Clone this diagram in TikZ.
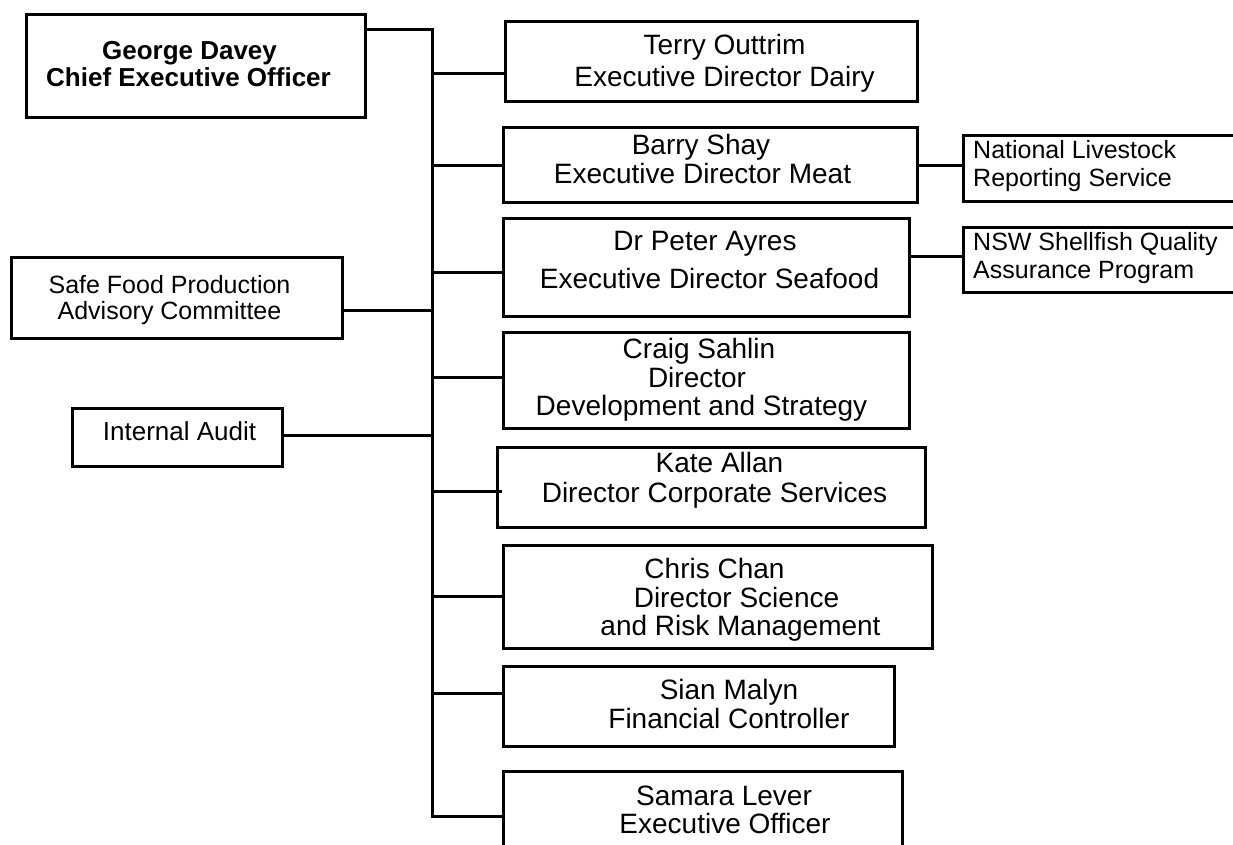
\documentclass[tikz,border=0pt]{standalone}
\usepackage{fontspec}
\setmainfont{Liberation Sans}
\begin{document}
\begin{tikzpicture}[x=1pt,y=-1pt,
  box/.style={draw, line width=3pt, rectangle, inner sep=0pt, outer sep=0pt},
  conn/.style={line width=3pt, line join=miter},
  big/.style={anchor=base, inner sep=0pt, font=\fontsize{28}{32}\selectfont},
  small/.style={anchor=base, inner sep=0pt, font=\fontsize{25}{28}\selectfont},
  smallw/.style={anchor=base west, inner sep=0pt, font=\fontsize{25}{28}\selectfont},
  boldt/.style={anchor=base, inner sep=0pt, font=\fontsize{26}{28}\selectfont\bfseries}]
\useasboundingbox (0,0) rectangle (1233,845);
\fill[white] (0,0) rectangle (1233,845);
\clip (0,0) rectangle (1233,845);

% boxes
\node[box, minimum width=339pt, minimum height=103pt] (ceo) at (195.5,66.5) {};
\node[box, minimum width=412pt, minimum height=80pt] (terry) at (711,62) {};
\node[box, minimum width=414pt, minimum height=74pt] (barry) at (710,165) {};
\node[box, minimum width=406pt, minimum height=98pt] (peter) at (706,267) {};
\node[box, minimum width=406pt, minimum height=96pt] (craig) at (706,380) {};
\node[box, minimum width=428pt, minimum height=80pt] (kate) at (711,487) {};
\node[box, minimum width=429pt, minimum height=103pt] (chris) at (717.5,596.5) {};
\node[box, minimum width=391pt, minimum height=80pt] (sian) at (698.5,706) {};
\node[box, minimum width=399pt, minimum height=130pt] (samara) at (702.5,836) {};
\node[box, minimum width=331pt, minimum height=81pt] (safe) at (176.5,297.5) {};
\node[box, minimum width=210pt, minimum height=58pt] (audit) at (177,437) {};
\node[box, minimum width=297pt, minimum height=65pt] (nlrs) at (1111.5,168.5) {};
\node[box, minimum width=297pt, minimum height=65pt] (nsw) at (1111.5,259.5) {};

% texts
\node[boldt] (t1) at (189.5,60) {George Davey};
\node[boldt] (t2) at (188.5,87) {Chief Executive Officer};
\node[big] (t3) at (724.5,55) {Terry Outtrim};
\node[big] (t4) at (724.5,87) {Executive Director Dairy};
\node[big] (t5) at (701,155) {Barry Shay};
\node[big] (t6) at (702.5,183) {Executive Director Meat};
\node[big] (t7) at (705,250) {Dr Peter Ayres};
\node[big] (t8) at (709.5,288) {Executive Director Seafood};
\node[big] (t9) at (699,358) {Craig Sahlin};
\node[big] (t10) at (697,387) {Director};
\node[big] (t11) at (701.5,415) {Development and Strategy};
\node[big] (t12) at (719.5,472) {Kate Allan};
\node[big] (t13) at (714.5,502) {Director Corporate Services};
\node[big] (t14) at (714.5,578) {Chris Chan};
\node[big] (t15) at (736.5,607) {Director Science};
\node[big] (t16) at (740.5,635) {and Risk Management};
\node[big] (t17) at (729,699) {Sian Malyn};
\node[big] (t18) at (729,728) {Financial Controller};
\node[big] (t19) at (724,805) {Samara Lever};
\node[big] (t20) at (725,833) {Executive Officer};
\node[small] (t21) at (169.5,293) {Safe Food Production};
\node[small] (t22) at (169.5,319) {Advisory Committee};
\node[small, font=\fontsize{26}{28}\selectfont] (t23) at (179.5,440) {Internal Audit};
\node[smallw] (t24) at (973,159) {National Livestock};
\node[smallw] (t25) at (973,186) {Reporting Service};
\node[smallw] (t26) at (973,250) {NSW Shellfish Quality};
\node[smallw] (t27) at (973,278) {Assurance Program};

% connector anchor points
\coordinate (ceoE) at ([yshift=36.5pt]ceo.east);
\coordinate (trunk) at (432,30);
\coordinate (terW) at ([yshift=-12pt]terry.west);
\coordinate (barW) at ([yshift=-1pt]barry.west);
\coordinate (barE) at ([yshift=-1pt]barry.east);
\coordinate (petW) at ([yshift=-5pt]peter.west);
\coordinate (petE) at ([yshift=11pt]peter.east);
\coordinate (craW) at ([yshift=3pt]craig.west);
\coordinate (katW) at ([xshift=5pt,yshift=-4pt]kate.west);
\coordinate (chrW) at (chris.west);
\coordinate (siaW) at ([yshift=13pt]sian.west);
\coordinate (samW) at ([yshift=20pt]samara.west);
\coordinate (safE) at ([yshift=-12.5pt]safe.east);
\coordinate (audE) at ([yshift=2pt]audit.east);
\coordinate (nlrW) at ([yshift=2.5pt]nlrs.west);
\coordinate (nswW) at ([yshift=3.5pt]nsw.west);

% trunk
\draw[conn] (ceoE) -- (ceoE -| trunk) -- (samW -| trunk) -- (samW);
\foreach \p in {terW, barW, petW, craW, katW, chrW, siaW, safE, audE}
  \draw[conn] (\p -| trunk) -- (\p);
\draw[conn] (barE) -- (nlrW);
\draw[conn] (petE) -- (nswW);
\end{tikzpicture}
\end{document}
